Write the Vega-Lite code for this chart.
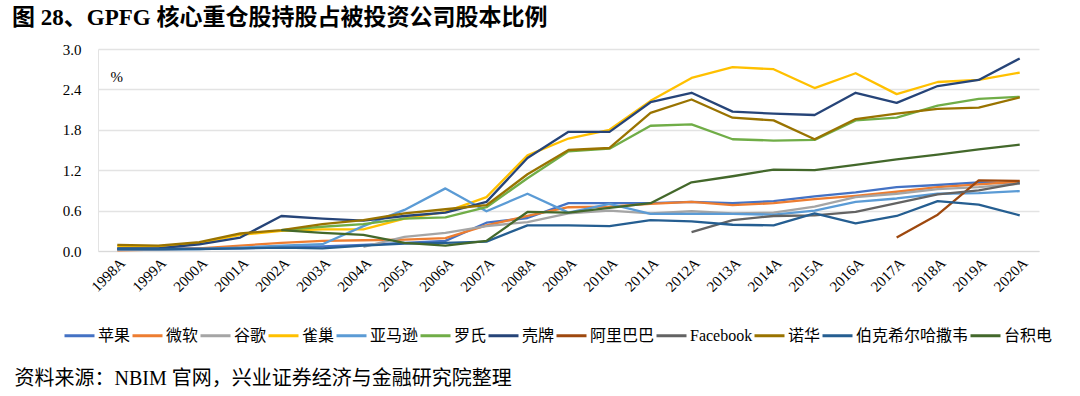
{
  "$schema": "https://vega.github.io/schema/vega-lite/v6.json",
  "width": 941,
  "height": 202,
  "autosize": {"type": "none"},
  "padding": {"left": 98, "top": 49, "right": 41, "bottom": 145},
  "background": "#ffffff",
  "title": {
    "text": "图 28、GPFG 核心重仓股持股占被投资公司股本比例",
    "anchor": "start",
    "frame": "group",
    "dx": -86,
    "offset": 12,
    "font": "Liberation Serif, Noto Sans CJK SC",
    "fontSize": 23,
    "fontWeight": "bold",
    "color": "#000000"
  },
  "config": {
    "view": {"stroke": null},
    "font": "Liberation Serif, Noto Sans CJK SC"
  },
  "data": {
    "values": [
      {"c":"苹果","y":"1998A","v":0.03},{"c":"苹果","y":"1999A","v":0.03},{"c":"苹果","y":"2000A","v":0.04},{"c":"苹果","y":"2001A","v":0.04},{"c":"苹果","y":"2002A","v":0.06},{"c":"苹果","y":"2003A","v":0.07},{"c":"苹果","y":"2004A","v":0.09},{"c":"苹果","y":"2005A","v":0.12},{"c":"苹果","y":"2006A","v":0.15},{"c":"苹果","y":"2007A","v":0.42},{"c":"苹果","y":"2008A","v":0.49},{"c":"苹果","y":"2009A","v":0.71},{"c":"苹果","y":"2010A","v":0.71},{"c":"苹果","y":"2011A","v":0.71},{"c":"苹果","y":"2012A","v":0.73},{"c":"苹果","y":"2013A","v":0.71},{"c":"苹果","y":"2014A","v":0.74},{"c":"苹果","y":"2015A","v":0.81},{"c":"苹果","y":"2016A","v":0.87},{"c":"苹果","y":"2017A","v":0.95},{"c":"苹果","y":"2018A","v":0.98},{"c":"苹果","y":"2019A","v":1.02},{"c":"苹果","y":"2020A","v":1.0},
      {"c":"微软","y":"1998A","v":0.01},{"c":"微软","y":"1999A","v":0.02},{"c":"微软","y":"2000A","v":0.04},{"c":"微软","y":"2001A","v":0.08},{"c":"微软","y":"2002A","v":0.12},{"c":"微软","y":"2003A","v":0.15},{"c":"微软","y":"2004A","v":0.16},{"c":"微软","y":"2005A","v":0.17},{"c":"微软","y":"2006A","v":0.19},{"c":"微软","y":"2007A","v":0.38},{"c":"微软","y":"2008A","v":0.52},{"c":"微软","y":"2009A","v":0.65},{"c":"微软","y":"2010A","v":0.66},{"c":"微软","y":"2011A","v":0.7},{"c":"微软","y":"2012A","v":0.73},{"c":"微软","y":"2013A","v":0.68},{"c":"微软","y":"2014A","v":0.71},{"c":"微软","y":"2015A","v":0.77},{"c":"微软","y":"2016A","v":0.82},{"c":"微软","y":"2017A","v":0.88},{"c":"微软","y":"2018A","v":0.95},{"c":"微软","y":"2019A","v":0.99},{"c":"微软","y":"2020A","v":1.03},
      {"c":"谷歌","y":"2004A","v":0.06},{"c":"谷歌","y":"2005A","v":0.21},{"c":"谷歌","y":"2006A","v":0.27},{"c":"谷歌","y":"2007A","v":0.37},{"c":"谷歌","y":"2008A","v":0.43},{"c":"谷歌","y":"2009A","v":0.56},{"c":"谷歌","y":"2010A","v":0.6},{"c":"谷歌","y":"2011A","v":0.56},{"c":"谷歌","y":"2012A","v":0.59},{"c":"谷歌","y":"2013A","v":0.56},{"c":"谷歌","y":"2014A","v":0.57},{"c":"谷歌","y":"2015A","v":0.66},{"c":"谷歌","y":"2016A","v":0.8},{"c":"谷歌","y":"2017A","v":0.85},{"c":"谷歌","y":"2018A","v":0.92},{"c":"谷歌","y":"2019A","v":0.95},{"c":"谷歌","y":"2020A","v":1.0},
      {"c":"雀巢","y":"1998A","v":0.07},{"c":"雀巢","y":"1999A","v":0.07},{"c":"雀巢","y":"2000A","v":0.12},{"c":"雀巢","y":"2001A","v":0.24},{"c":"雀巢","y":"2002A","v":0.3},{"c":"雀巢","y":"2003A","v":0.32},{"c":"雀巢","y":"2004A","v":0.32},{"c":"雀巢","y":"2005A","v":0.48},{"c":"雀巢","y":"2006A","v":0.58},{"c":"雀巢","y":"2007A","v":0.8},{"c":"雀巢","y":"2008A","v":1.42},{"c":"雀巢","y":"2009A","v":1.67},{"c":"雀巢","y":"2010A","v":1.8},{"c":"雀巢","y":"2011A","v":2.23},{"c":"雀巢","y":"2012A","v":2.57},{"c":"雀巢","y":"2013A","v":2.73},{"c":"雀巢","y":"2014A","v":2.7},{"c":"雀巢","y":"2015A","v":2.42},{"c":"雀巢","y":"2016A","v":2.64},{"c":"雀巢","y":"2017A","v":2.33},{"c":"雀巢","y":"2018A","v":2.51},{"c":"雀巢","y":"2019A","v":2.54},{"c":"雀巢","y":"2020A","v":2.65},
      {"c":"亚马逊","y":"1998A","v":0.02},{"c":"亚马逊","y":"1999A","v":0.02},{"c":"亚马逊","y":"2000A","v":0.03},{"c":"亚马逊","y":"2001A","v":0.05},{"c":"亚马逊","y":"2002A","v":0.08},{"c":"亚马逊","y":"2003A","v":0.1},{"c":"亚马逊","y":"2004A","v":0.37},{"c":"亚马逊","y":"2005A","v":0.61},{"c":"亚马逊","y":"2006A","v":0.93},{"c":"亚马逊","y":"2007A","v":0.59},{"c":"亚马逊","y":"2008A","v":0.85},{"c":"亚马逊","y":"2009A","v":0.57},{"c":"亚马逊","y":"2010A","v":0.7},{"c":"亚马逊","y":"2011A","v":0.55},{"c":"亚马逊","y":"2012A","v":0.55},{"c":"亚马逊","y":"2013A","v":0.55},{"c":"亚马逊","y":"2014A","v":0.54},{"c":"亚马逊","y":"2015A","v":0.6},{"c":"亚马逊","y":"2016A","v":0.73},{"c":"亚马逊","y":"2017A","v":0.78},{"c":"亚马逊","y":"2018A","v":0.85},{"c":"亚马逊","y":"2019A","v":0.86},{"c":"亚马逊","y":"2020A","v":0.89},
      {"c":"罗氏","y":"2002A","v":0.31},{"c":"罗氏","y":"2003A","v":0.36},{"c":"罗氏","y":"2004A","v":0.4},{"c":"罗氏","y":"2005A","v":0.48},{"c":"罗氏","y":"2006A","v":0.5},{"c":"罗氏","y":"2007A","v":0.65},{"c":"罗氏","y":"2008A","v":1.08},{"c":"罗氏","y":"2009A","v":1.48},{"c":"罗氏","y":"2010A","v":1.52},{"c":"罗氏","y":"2011A","v":1.86},{"c":"罗氏","y":"2012A","v":1.88},{"c":"罗氏","y":"2013A","v":1.66},{"c":"罗氏","y":"2014A","v":1.64},{"c":"罗氏","y":"2015A","v":1.65},{"c":"罗氏","y":"2016A","v":1.94},{"c":"罗氏","y":"2017A","v":1.98},{"c":"罗氏","y":"2018A","v":2.16},{"c":"罗氏","y":"2019A","v":2.26},{"c":"罗氏","y":"2020A","v":2.29},
      {"c":"壳牌","y":"1998A","v":0.04},{"c":"壳牌","y":"1999A","v":0.04},{"c":"壳牌","y":"2000A","v":0.1},{"c":"壳牌","y":"2001A","v":0.2},{"c":"壳牌","y":"2002A","v":0.52},{"c":"壳牌","y":"2003A","v":0.48},{"c":"壳牌","y":"2004A","v":0.45},{"c":"壳牌","y":"2005A","v":0.52},{"c":"壳牌","y":"2006A","v":0.57},{"c":"壳牌","y":"2007A","v":0.73},{"c":"壳牌","y":"2008A","v":1.38},{"c":"壳牌","y":"2009A","v":1.77},{"c":"壳牌","y":"2010A","v":1.77},{"c":"壳牌","y":"2011A","v":2.21},{"c":"壳牌","y":"2012A","v":2.35},{"c":"壳牌","y":"2013A","v":2.07},{"c":"壳牌","y":"2014A","v":2.04},{"c":"壳牌","y":"2015A","v":2.02},{"c":"壳牌","y":"2016A","v":2.35},{"c":"壳牌","y":"2017A","v":2.2},{"c":"壳牌","y":"2018A","v":2.45},{"c":"壳牌","y":"2019A","v":2.54},{"c":"壳牌","y":"2020A","v":2.86},
      {"c":"阿里巴巴","y":"2017A","v":0.2},{"c":"阿里巴巴","y":"2018A","v":0.54},{"c":"阿里巴巴","y":"2019A","v":1.05},{"c":"阿里巴巴","y":"2020A","v":1.04},
      {"c":"Facebook","y":"2012A","v":0.28},{"c":"Facebook","y":"2013A","v":0.46},{"c":"Facebook","y":"2014A","v":0.52},{"c":"Facebook","y":"2015A","v":0.53},{"c":"Facebook","y":"2016A","v":0.58},{"c":"Facebook","y":"2017A","v":0.71},{"c":"Facebook","y":"2018A","v":0.84},{"c":"Facebook","y":"2019A","v":0.9},{"c":"Facebook","y":"2020A","v":1.01},
      {"c":"诺华","y":"1998A","v":0.09},{"c":"诺华","y":"1999A","v":0.08},{"c":"诺华","y":"2000A","v":0.13},{"c":"诺华","y":"2001A","v":0.26},{"c":"诺华","y":"2002A","v":0.31},{"c":"诺华","y":"2003A","v":0.4},{"c":"诺华","y":"2004A","v":0.46},{"c":"诺华","y":"2005A","v":0.56},{"c":"诺华","y":"2006A","v":0.62},{"c":"诺华","y":"2007A","v":0.68},{"c":"诺华","y":"2008A","v":1.14},{"c":"诺华","y":"2009A","v":1.5},{"c":"诺华","y":"2010A","v":1.53},{"c":"诺华","y":"2011A","v":2.05},{"c":"诺华","y":"2012A","v":2.25},{"c":"诺华","y":"2013A","v":1.98},{"c":"诺华","y":"2014A","v":1.94},{"c":"诺华","y":"2015A","v":1.66},{"c":"诺华","y":"2016A","v":1.96},{"c":"诺华","y":"2017A","v":2.04},{"c":"诺华","y":"2018A","v":2.11},{"c":"诺华","y":"2019A","v":2.13},{"c":"诺华","y":"2020A","v":2.28},
      {"c":"伯克希尔哈撒韦","y":"1998A","v":0.03},{"c":"伯克希尔哈撒韦","y":"1999A","v":0.03},{"c":"伯克希尔哈撒韦","y":"2000A","v":0.03},{"c":"伯克希尔哈撒韦","y":"2001A","v":0.04},{"c":"伯克希尔哈撒韦","y":"2002A","v":0.05},{"c":"伯克希尔哈撒韦","y":"2003A","v":0.04},{"c":"伯克希尔哈撒韦","y":"2004A","v":0.08},{"c":"伯克希尔哈撒韦","y":"2005A","v":0.11},{"c":"伯克希尔哈撒韦","y":"2006A","v":0.12},{"c":"伯克希尔哈撒韦","y":"2007A","v":0.14},{"c":"伯克希尔哈撒韦","y":"2008A","v":0.38},{"c":"伯克希尔哈撒韦","y":"2009A","v":0.38},{"c":"伯克希尔哈撒韦","y":"2010A","v":0.37},{"c":"伯克希尔哈撒韦","y":"2011A","v":0.46},{"c":"伯克希尔哈撒韦","y":"2012A","v":0.44},{"c":"伯克希尔哈撒韦","y":"2013A","v":0.39},{"c":"伯克希尔哈撒韦","y":"2014A","v":0.38},{"c":"伯克希尔哈撒韦","y":"2015A","v":0.56},{"c":"伯克希尔哈撒韦","y":"2016A","v":0.41},{"c":"伯克希尔哈撒韦","y":"2017A","v":0.52},{"c":"伯克希尔哈撒韦","y":"2018A","v":0.74},{"c":"伯克希尔哈撒韦","y":"2019A","v":0.69},{"c":"伯克希尔哈撒韦","y":"2020A","v":0.53},
      {"c":"台积电","y":"2002A","v":0.31},{"c":"台积电","y":"2003A","v":0.27},{"c":"台积电","y":"2004A","v":0.24},{"c":"台积电","y":"2005A","v":0.12},{"c":"台积电","y":"2006A","v":0.08},{"c":"台积电","y":"2007A","v":0.15},{"c":"台积电","y":"2008A","v":0.58},{"c":"台积电","y":"2009A","v":0.57},{"c":"台积电","y":"2010A","v":0.64},{"c":"台积电","y":"2011A","v":0.71},{"c":"台积电","y":"2012A","v":1.02},{"c":"台积电","y":"2013A","v":1.11},{"c":"台积电","y":"2014A","v":1.21},{"c":"台积电","y":"2015A","v":1.2},{"c":"台积电","y":"2016A","v":1.28},{"c":"台积电","y":"2017A","v":1.36},{"c":"台积电","y":"2018A","v":1.43},{"c":"台积电","y":"2019A","v":1.51},{"c":"台积电","y":"2020A","v":1.58}
    ]
  },
  "mark": {"type": "line", "strokeWidth": 2.3, "strokeJoin": "round"},
  "encoding": {
    "x": {
      "field": "y",
      "type": "ordinal",
      "scale": {"type": "point", "padding": 0.47},
      "axis": {
        "title": "资料来源：NBIM 官网，兴业证券经济与金融研究院整理",
        "titleFont": "Liberation Serif, Noto Sans CJK SC",
        "titleFontSize": 20,
        "titleFontWeight": "normal",
        "titleColor": "#000000",
        "titleX": -84,
        "titleY": 127,
        "titleAlign": "left",
        "titleBaseline": "middle",
        "labelAngle": -45,
        "labelFont": "Liberation Serif",
        "labelFontSize": 15,
        "labelColor": "#000000",
        "labelPadding": 4,
        "ticks": false,
        "domain": true,
        "domainColor": "#d9d9d9",
        "grid": false
      }
    },
    "y": {
      "field": "v",
      "type": "quantitative",
      "scale": {"domain": [0, 3], "nice": false},
      "axis": {
        "title": "%",
        "titleAngle": 0,
        "titleX": 12,
        "titleY": 27,
        "titleAlign": "left",
        "titleBaseline": "middle",
        "titleFont": "Liberation Serif",
        "titleFontSize": 15,
        "titleFontWeight": "normal",
        "titleColor": "#000000",
        "values": [0, 0.6, 1.2, 1.8, 2.4, 3.0],
        "format": ".1f",
        "labelFont": "Liberation Serif",
        "labelFontSize": 15,
        "labelColor": "#000000",
        "labelPadding": 17,
        "ticks": false,
        "domain": true,
        "domainColor": "#e3e3e3",
        "grid": true,
        "gridColor": "#e3e3e3",
        "gridWidth": 1.5
      }
    },
    "color": {
      "field": "c",
      "type": "nominal",
      "scale": {
        "domain": ["苹果","微软","谷歌","雀巢","亚马逊","罗氏","壳牌","阿里巴巴","Facebook","诺华","伯克希尔哈撒韦","台积电"],
        "range": ["#4472C4","#ED7D31","#A5A5A5","#FFC000","#5B9BD5","#70AD47","#264478","#9E480E","#636363","#997300","#255E91","#43682B"]
      },
      "legend": {
        "title": null,
        "orient": "none",
        "legendX": -35,
        "legendY": 270,
        "direction": "horizontal",
        "columns": 12,
        "symbolType": "stroke",
        "symbolSize": 900,
        "symbolStrokeWidth": 3,
        "labelFont": "Liberation Serif, Noto Sans CJK SC",
        "labelFontSize": 16,
        "labelColor": "#000000",
        "labelOffset": 2,
        "columnPadding": -9,
        "labelLimit": 200
      }
    }
  }
}
